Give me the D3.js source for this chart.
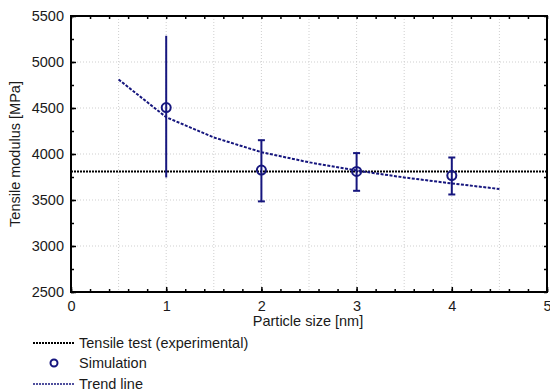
<!DOCTYPE html>
<html>
<head>
<script src="https://d3js.org/d3.v7.min.js"></script>
<style>
  body { margin: 0; background: #fff; }
  text { font-family: "Liberation Sans", Arial, sans-serif; }
</style>
</head>
<body>
<svg id="chart" width="550" height="392"></svg>
<script>
// simulation points with error bars
const sizes = [1, 2, 3, 4];
const simMean = [4505, 3825, 3810, 3765];
const simHigh = [5285, 4150, 4010, 3962];
const simLow = [3745, 3485, 3600, 3560];

// trend line
const trendX = [0.5, 1, 1.5, 2, 2.5, 3, 3.5, 4, 4.5];
const trendY = [4810, 4400, 4180, 4020, 3910, 3820, 3745, 3680, 3620];

// experimental tensile test level
const experimental = 3810;

const xTicks = [0, 1, 2, 3, 4, 5];
const yTicks = [2500, 3000, 3500, 4000, 4500, 5000, 5500];

const legendLabels = ["Tensile test (experimental)", "Simulation", "Trend line"];

const navy = "#16167e";
const svg = d3.select("#chart");
const mLeft = 71, mRight = 547, mTop = 16, mBottom = 292;

const x = d3.scaleLinear().domain([0, 5]).range([mLeft, mRight]);
const y = d3.scaleLinear().domain([2500, 5500]).range([mBottom, mTop]);

// grid
const grid = svg.append("g").attr("stroke", "#cfcfcf").attr("stroke-width", 1).attr("stroke-dasharray", "1,2");
d3.range(0.5, 5, 0.5).forEach(v => {
  grid.append("line").attr("x1", x(v)).attr("x2", x(v)).attr("y1", mTop).attr("y2", mBottom);
});
yTicks.slice(1, -1).forEach(v => {
  grid.append("line").attr("x1", mLeft).attr("x2", mRight).attr("y1", y(v)).attr("y2", y(v));
});

// axes (ticks pointing inward)
const axB = d3.axisBottom(x).tickValues(xTicks).tickSize(-5).tickPadding(9).tickFormat(d3.format("d"));
const axL = d3.axisLeft(y).tickValues(yTicks).tickSize(-5).tickPadding(7).tickFormat(d3.format("d"));
const axT = d3.axisTop(x).tickValues(d3.range(0, 5.01, 0.2)).tickSize(-3).tickFormat("");
const axR = d3.axisRight(y).tickValues(d3.range(2500, 5501, 250)).tickSize(-3).tickFormat("");
const axBm = d3.axisBottom(x).tickValues(d3.range(0, 5.01, 0.2)).tickSize(-3).tickFormat("");
const axLm = d3.axisLeft(y).tickValues(d3.range(2500, 5501, 250)).tickSize(-3).tickFormat("");

function styleAxis(g) {
  g.select(".domain").remove();
  g.selectAll("line").attr("stroke", "#000").attr("stroke-width", 1.5);
  g.selectAll("text").attr("font-size", 14.5).attr("fill", "#1a1a1a");
}
svg.append("g").attr("transform", `translate(0,${mBottom})`).call(axBm).call(styleAxis);
svg.append("g").attr("transform", `translate(${mLeft},0)`).call(axLm).call(styleAxis);
svg.append("g").attr("transform", `translate(0,${mTop})`).call(axT).call(styleAxis);
svg.append("g").attr("transform", `translate(${mRight},0)`).call(axR).call(styleAxis);
svg.append("g").attr("transform", `translate(0,${mBottom})`).call(axB).call(styleAxis);
svg.append("g").attr("transform", `translate(${mLeft},0)`).call(axL).call(styleAxis);

svg.append("rect").attr("x", mLeft).attr("y", mTop).attr("width", mRight - mLeft).attr("height", mBottom - mTop)
  .attr("fill", "none").attr("stroke", "#000").attr("stroke-width", 2);

// experimental line
svg.append("line").attr("x1", x(0)).attr("x2", x(5)).attr("y1", y(experimental)).attr("y2", y(experimental))
  .attr("stroke", "#000").attr("stroke-width", 2).attr("stroke-dasharray", "2,1");

// trend line
const trend = trendX.map((v, i) => [v, trendY[i]]);
svg.append("path").datum(trend)
  .attr("d", d3.line().x(d => x(d[0])).y(d => y(d[1])))
  .attr("fill", "none").attr("stroke", navy).attr("stroke-width", 2).attr("stroke-dasharray", "3,1.5");

// error bars
const eb = svg.append("g").attr("stroke", navy).attr("stroke-width", 2).attr("fill", "none");
sizes.forEach((s, i) => {
  eb.append("line").attr("x1", x(s)).attr("x2", x(s)).attr("y1", y(simHigh[i])).attr("y2", y(simLow[i]));
  if (i > 0) {
    [simHigh[i], simLow[i]].forEach(v => {
      eb.append("line").attr("x1", x(s) - 3.5).attr("x2", x(s) + 3.5).attr("y1", y(v)).attr("y2", y(v));
    });
  }
  eb.append("circle").attr("cx", x(s)).attr("cy", y(simMean[i])).attr("r", 4.5).attr("fill", "none");
});

// axis titles
svg.append("text").attr("x", (mLeft + mRight) / 2 - 1).attr("y", 326).attr("text-anchor", "middle")
  .attr("font-size", 14.5).attr("fill", "#1a1a1a").text("Particle size [nm]");
svg.append("text").attr("transform", `translate(20,${(mTop + mBottom) / 2}) rotate(-90)`)
  .attr("text-anchor", "middle").attr("font-size", 14.5).attr("fill", "#1a1a1a").text("Tensile modulus [MPa]");

// legend
const lg = svg.append("g");
const rows = [343, 363, 384];
lg.append("line").attr("x1", 33).attr("x2", 75).attr("y1", rows[0]).attr("y2", rows[0])
  .attr("stroke", "#000").attr("stroke-width", 2).attr("stroke-dasharray", "2,1");
lg.append("circle").attr("cx", 54).attr("cy", rows[1]).attr("r", 3.5)
  .attr("fill", "none").attr("stroke", navy).attr("stroke-width", 2);
lg.append("line").attr("x1", 33).attr("x2", 75).attr("y1", rows[2]).attr("y2", rows[2])
  .attr("stroke", navy).attr("stroke-width", 1.5).attr("stroke-dasharray", "2,1");
legendLabels.forEach((t, i) => {
  lg.append("text").attr("x", 79).attr("y", rows[i] + 5).attr("font-size", 14.5).attr("fill", "#1a1a1a").text(t);
});
</script>
</body>
</html>
